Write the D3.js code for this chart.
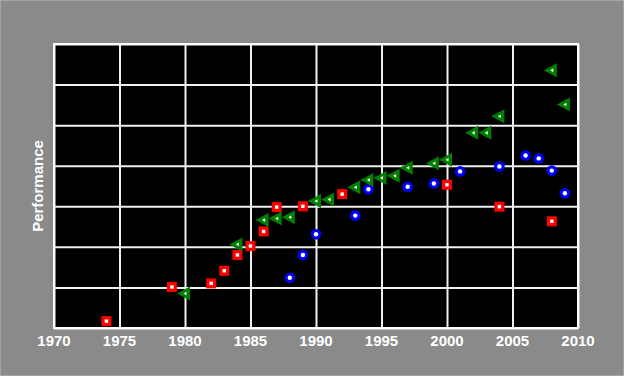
<!DOCTYPE html>
<html>
<head>
<meta charset="utf-8">
<script src="https://cdn.jsdelivr.net/npm/d3@7"></script>
<style>
  body { margin: 0; background: #8a8a8a; }
  svg { display: block; }
</style>
</head>
<body>
<svg></svg>
<script>
var width = 624;
var height = 376;

// red squares
var redYears = [1974, 1979, 1982, 1983, 1984, 1985, 1986, 1987, 1989, 1992, 2000, 2004, 2008];
var redValues = [0.17, 1.01, 1.10, 1.41, 1.80, 2.02, 2.38, 2.98, 3.00, 3.30, 3.53, 2.99, 2.63];

// blue circles
var blueYears = [1988, 1989, 1990, 1993, 1994, 1997, 1999, 2001, 2004, 2006, 2007, 2008, 2009];
var blueValues = [1.24, 1.80, 2.31, 2.77, 3.42, 3.48, 3.56, 3.86, 3.98, 4.25, 4.18, 3.88, 3.32];

// green triangles
var greenYears = [1980, 1984, 1986, 1987, 1988, 1990, 1991, 1993, 1994, 1995, 1996, 1997, 1999, 2000, 2002, 2003, 2004, 2008, 2009];
var greenValues = [0.85, 2.06, 2.66, 2.70, 2.73, 3.13, 3.17, 3.47, 3.65, 3.70, 3.75, 3.95, 4.06, 4.15, 4.81, 4.81, 5.22, 6.35, 5.51];

var xTicks = [1970, 1975, 1980, 1985, 1990, 1995, 2000, 2005, 2010];
var yTicks = [0, 1, 2, 3, 4, 5, 6, 7];

var plotLeft = 54, plotRight = 578, plotTop = 44, plotBottom = 328;

var svg = d3.select('svg')
    .attr('width', width)
    .attr('height', height);

svg.append('rect')
    .attr('x', 0.5).attr('y', 0.5)
    .attr('width', width - 1).attr('height', height - 1)
    .style('fill', '#8a8a8a')
    .style('stroke', '#a4a4a4');

var x = d3.scaleLinear().domain([1970, 2010]).range([plotLeft, plotRight]);
var y = d3.scaleLinear().domain([0, 7]).range([plotBottom, plotTop]);

svg.append('rect')
    .attr('x', plotLeft).attr('y', plotTop)
    .attr('width', plotRight - plotLeft).attr('height', plotBottom - plotTop)
    .style('fill', 'black');

// grid
svg.append('g')
    .attr('transform', 'translate(0,' + plotBottom + ')')
    .call(d3.axisBottom(x).tickValues(xTicks).tickSize(-(plotBottom - plotTop)).tickFormat(''))
    .call(function(g){
        g.select('.domain').remove();
        g.selectAll('line').style('stroke', '#f0f0f0').style('stroke-width', 2);
    });

svg.append('g')
    .attr('transform', 'translate(' + plotLeft + ',0)')
    .call(d3.axisLeft(y).tickValues(yTicks).tickSize(-(plotRight - plotLeft)).tickFormat(''))
    .call(function(g){
        g.select('.domain').remove();
        g.selectAll('line').style('stroke', '#f0f0f0').style('stroke-width', 2);
    });

svg.append('rect')
    .attr('x', plotLeft).attr('y', plotTop)
    .attr('width', plotRight - plotLeft).attr('height', plotBottom - plotTop)
    .style('fill', 'none')
    .style('stroke', 'white')
    .style('stroke-width', 2);

// tick labels
svg.append('g')
    .selectAll('text')
    .data(xTicks)
    .enter()
    .append('text')
    .attr('x', function(d){ return x(d); })
    .attr('y', 346)
    .attr('text-anchor', 'middle')
    .style('font-family', 'Liberation Sans, Arial, sans-serif')
    .style('font-weight', 'bold')
    .style('font-size', '15px')
    .style('fill', 'white')
    .text(function(d){ return d; });

svg.append('text')
    .attr('transform', 'translate(43,' + ((plotTop + plotBottom) / 2) + ') rotate(-90)')
    .attr('text-anchor', 'middle')
    .style('font-family', 'Liberation Sans, Arial, sans-serif')
    .style('font-weight', 'bold')
    .style('font-size', '15px')
    .style('fill', 'white')
    .text('Performance');

var marks = svg.append('g');

// red squares
for (var i = 0; i < redYears.length; i++) {
    var cx = x(redYears[i]), cy = y(redValues[i]);
    marks.append('rect')
        .attr('x', cx - 5).attr('y', cy - 5)
        .attr('width', 10).attr('height', 10)
        .style('fill', '#ff0000');
    marks.append('rect')
        .attr('x', cx - 1.7).attr('y', cy - 1.7)
        .attr('width', 3.4).attr('height', 3.4)
        .style('fill', 'white');
}

// blue circles
for (var i = 0; i < blueYears.length; i++) {
    var cx = x(blueYears[i]), cy = y(blueValues[i]);
    marks.append('circle')
        .attr('cx', cx).attr('cy', cy).attr('r', 5.3)
        .style('fill', '#0000ff');
    marks.append('circle')
        .attr('cx', cx).attr('cy', cy).attr('r', 2.2)
        .style('fill', 'white');
}

// green triangles
for (var i = 0; i < greenYears.length; i++) {
    var cx = x(greenYears[i]), cy = y(greenValues[i]);
    marks.append('path')
        .attr('d', 'M' + (cx - 8) + ',' + cy + 'L' + (cx + 5) + ',' + (cy - 7) + 'L' + (cx + 5) + ',' + (cy + 7) + 'Z')
        .style('fill', '#007f00');
    marks.append('path')
        .attr('d', 'M' + (cx - 1.5) + ',' + cy + 'L' + (cx + 1.5) + ',' + (cy - 1.8) + 'L' + (cx + 1.5) + ',' + (cy + 1.8) + 'Z')
        .style('fill', 'white');
}
</script>
</body>
</html>
